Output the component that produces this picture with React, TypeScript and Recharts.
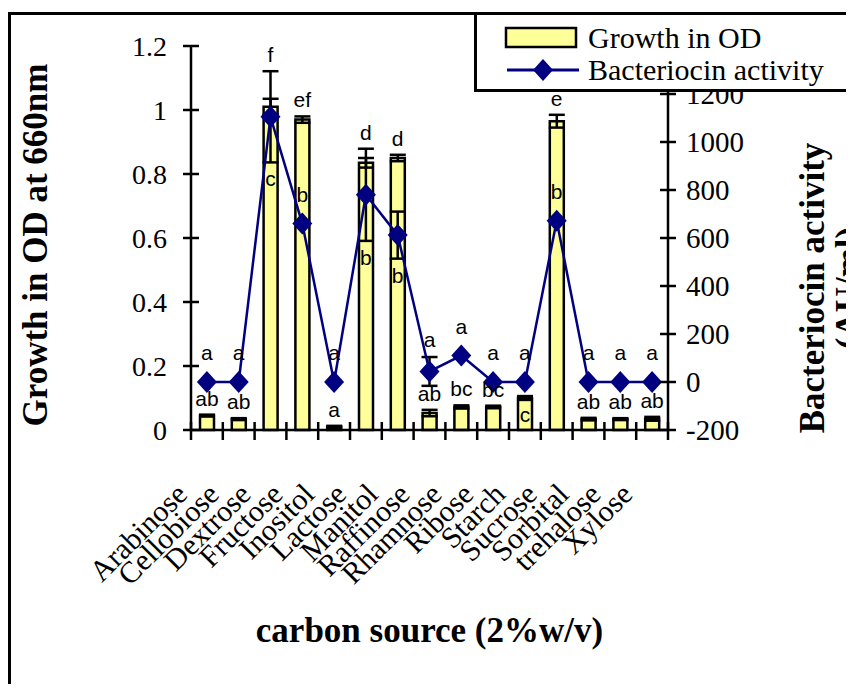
import React from 'react';
import {
  ComposedChart, Bar, Line, XAxis, YAxis, ErrorBar, LabelList, Legend, Label
} from 'recharts';

// carbon sources tested (2% w/v)
const carbonSources = [
  'Arabinose', 'Cellobiose', 'Dextrose', 'Fructose', 'Inositol', 'Lactose', 'Manitol',
  'Raffinose', 'Rhamnose', 'Ribose', 'Starch', 'Sucrose', 'Sorbital', 'trehalose', 'Xylose'
];

// growth (OD 660nm) with std error
const growthOD = [0.045, 0.034, 1.01, 0.97, 0.01, 0.835, 0.85, 0.053, 0.072, 0.072, 0.1, 0.965, 0.034, 0.034, 0.035];
const growthErr = [0.003, 0.003, 0.025, 0.01, 0.003, 0.015, 0.01, 0.01, 0.005, 0.004, 0.006, 0.02, 0.004, 0.003, 0.006];

// bacteriocin activity (AU/ml) with std error
const activity = [0, 0, 1105, 660, 0, 780, 612, 44, 110, 0, 0, 672, 0, 0, 0];
const activityErr = [0, 0, 190, 0, 0, 192, 98, 60, 0, 0, 0, 0, 0, 0, 0];

// significance groups
const growthLetters = ['ab', 'ab', 'f', 'ef', 'a', 'd', 'd', 'ab', 'bc', 'bc', 'c', 'e', 'ab', 'ab', 'ab'];
const activityLetters = ['a', 'a', 'c', 'b', 'a', 'b', 'b', 'a', 'a', 'a', 'a', 'b', 'a', 'a', 'a'];

const odTicks = [0, 0.2, 0.4, 0.6, 0.8, 1, 1.2];
const activityTicks = [-200, 0, 200, 400, 600, 800, 1000, 1200];

const W = 846;
const H = 676;
const TOP = 38;
const LEFT_W = 183;
const RIGHT_W = 186;
const PLOT_H = 384;
const PLOT_BOTTOM = TOP + PLOT_H;
const BAND = (W - LEFT_W - RIGHT_W) / carbonSources.length;

const serif = '"Liberation Serif", "Times New Roman", serif';
const sans = '"Liberation Sans", Arial, sans-serif';

const yOD = (v: number) => PLOT_BOTTOM - (v / 1.2) * PLOT_H;
const yAct = (v: number) => PLOT_BOTTOM - ((v + 200) / 1600) * PLOT_H;

const data = carbonSources.map((name, i) => ({
  name,
  od: growthOD[i],
  odErr: growthErr[i],
  activity: activity[i],
  activityErr: activityErr[i],
}));

const catIndex = (p: any) => {
  if (typeof p.index === 'number') return p.index;
  const x = p.viewBox?.x ?? p.x ?? LEFT_W;
  return Math.max(0, Math.min(carbonSources.length - 1, Math.floor((x - LEFT_W + 1) / BAND)));
};

const GrowthLetter = (p: any) => {
  const i = catIndex(p);
  const cx = LEFT_W + BAND * (i + 0.5);
  const barTop = yOD(growthOD[i]);
  let base = yOD(growthOD[i] + growthErr[i]);
  const aErr = activityErr[i];
  // activity error bar crossing the bar top pushes the letter higher
  if (aErr > 0 && yAct(activity[i] - aErr) > barTop) {
    base = Math.min(base, yAct(activity[i] + aErr));
  }
  let y = base - 9;
  const dy = yAct(activity[i]);
  if (dy > y - 13 && dy < y + 2) y = barTop + 24; // tuck inside the bar, clear of the marker
  return (
    <text x={cx} y={y} textAnchor="middle" fontFamily={sans} fontSize={21} fill="#000">
      {growthLetters[i]}
    </text>
  );
};

const ActivityLetter = (p: any) => {
  const i = catIndex(p);
  const cx = LEFT_W + BAND * (i + 0.5);
  const dy = yAct(activity[i]);
  const err = activityErr[i];
  const y = err > 0 && dy > yOD(growthOD[i])
    ? yAct(activity[i] - err) + 24
    : yAct(activity[i] + err) - (err > 0 ? 10 : 22);
  return (
    <text x={cx} y={y} textAnchor="middle" fontFamily={sans} fontSize={21} fill="#000">
      {activityLetters[i]}
    </text>
  );
};

const Diamond = (p: any) => {
  const { cx, cy } = p;
  if (cx == null || cy == null) return <g key={`dm-${p.index}`} />;
  return (
    <path
      key={`dm-${p.index}`}
      d={`M${cx},${cy - 11} L${cx + 10},${cy} L${cx},${cy + 11} L${cx - 10},${cy} Z`}
      fill="#000080"
    />
  );
};

const CategoryTick = (p: any) => {
  const { x, y, payload, index } = p;
  const half = BAND / 2;
  return (
    <g>
      <line x1={x - half} x2={x - half} y1={y - 8} y2={y + 10} stroke="#000" strokeWidth={2.5} />
      {index === carbonSources.length - 1 && (
        <line x1={x + half} x2={x + half} y1={y - 8} y2={y + 10} stroke="#000" strokeWidth={2.5} />
      )}
      <text
        transform={`translate(${x - 18},${y + 66}) rotate(-45)`}
        textAnchor="end"
        fontFamily={serif}
        fontSize={30}
        fill="#000"
      >
        {payload.value}
      </text>
    </g>
  );
};

const LeftTick = (p: any) => {
  const { x, y, payload } = p;
  const ax = x + 24;
  return (
    <g>
      <line x1={ax - 8} x2={ax + 8} y1={y} y2={y} stroke="#000" strokeWidth={2.5} />
      <text x={x} y={y} dy="0.35em" textAnchor="end" fontFamily={serif} fontSize={28} fill="#000">
        {payload.value}
      </text>
    </g>
  );
};

const RightTick = (p: any) => {
  const { x, y, payload } = p;
  const ax = x - 18;
  return (
    <g>
      <line x1={ax - 8} x2={ax + 8} y1={y} y2={y} stroke="#000" strokeWidth={2.5} />
      <text x={x} y={y} dy="0.35em" textAnchor="start" fontFamily={serif} fontSize={29} fill="#000">
        {payload.value}
      </text>
    </g>
  );
};

const LegendBox = () => (
  <svg width={420} height={80} style={{ display: 'block' }}>
    <rect x={1.5} y={1.5} width={430} height={77} fill="#fff" stroke="#000" strokeWidth={3} />
    <rect x={32} y={16} width={70} height={19} fill="#FFFF99" stroke="#000" strokeWidth={2.5} />
    <text x={114} y={36} fontFamily={serif} fontSize={30} fill="#000">Growth in OD</text>
    <line x1={33} x2={105} y1={58} y2={58} stroke="#000080" strokeWidth={3} />
    <path d="M69,47 L79,58 L69,69 L59,58 Z" fill="#000080" />
    <text x={114} y={68} fontFamily={serif} fontSize={30} fill="#000">Bacteriocin activity</text>
  </svg>
);

const titleStyle = { fontFamily: serif, fontSize: 35, fontWeight: 700, fill: '#000' };

export default function App() {
  return (
    <div style={{ position: 'relative', width: W, height: H, overflow: 'hidden' }}>
      <div
        style={{
          position: 'absolute', left: 0, top: 4, width: W + 60, height: H + 60,
          border: '3px solid #000', boxSizing: 'border-box',
        }}
      />
      <ComposedChart width={W} height={H} data={data} margin={{ top: TOP, right: 0, bottom: 0, left: 0 }}>
        <XAxis
          dataKey="name"
          height={H - TOP - PLOT_H}
          interval={0}
          tickLine={false}
          tickSize={0}
          tickMargin={0}
          tick={<CategoryTick />}
          axisLine={{ stroke: '#000', strokeWidth: 2.5 }}
        >
          <Label
            content={() => (
              <text x={LEFT_W + (W - LEFT_W - RIGHT_W) / 2} y={634} textAnchor="middle" style={titleStyle}>
                carbon source (2%w/v)
              </text>
            )}
          />
        </XAxis>
        <YAxis
          yAxisId="od"
          orientation="left"
          width={LEFT_W}
          domain={[0, 1.2]}
          ticks={odTicks}
          interval={0}
          tickLine={false}
          tickSize={0}
          tickMargin={24}
          tick={<LeftTick />}
          axisLine={{ stroke: '#000', strokeWidth: 2.5 }}
        >
          <Label
            content={() => (
              <text transform={`translate(39,${TOP + PLOT_H / 2 + 7}) rotate(-90)`} textAnchor="middle" style={titleStyle}>
                Growth in OD at 660nm
              </text>
            )}
          />
        </YAxis>
        <YAxis
          yAxisId="act"
          orientation="right"
          width={RIGHT_W}
          domain={[-200, 1400]}
          ticks={activityTicks}
          interval={0}
          tickLine={false}
          tickSize={0}
          tickMargin={18}
          tick={<RightTick />}
          axisLine={{ stroke: '#000', strokeWidth: 2.5 }}
        >
          <Label
            content={() => (
              <g>
                <text transform={`translate(816,280) rotate(-90)`} textAnchor="middle" style={titleStyle}>
                  Bacteriocin activity
                </text>
                <text transform={`translate(852,280) rotate(-90)`} textAnchor="middle" style={titleStyle}>
                  (AU/ml)
                </text>
              </g>
            )}
          />
        </YAxis>
        <Legend
          layout="vertical"
          align="center"
          verticalAlign="middle"
          content={<LegendBox />}
          wrapperStyle={{ left: 466, top: 4, width: 420, height: 80 }}
        />
        <Bar
          yAxisId="od"
          dataKey="od"
          name="Growth in OD"
          fill="#FFFF99"
          stroke="#000"
          strokeWidth={2.5}
          barSize={14}
          isAnimationActive={false}
        >
          <ErrorBar dataKey="odErr" width={8} stroke="#000" strokeWidth={2.5} direction="y" />
          <LabelList dataKey="od" content={(p: any) => <GrowthLetter {...p} />} />
        </Bar>
        <Line
          yAxisId="act"
          type="linear"
          dataKey="activity"
          name="Bacteriocin activity"
          stroke="#000080"
          strokeWidth={2.5}
          dot={(p: any) => <Diamond {...p} />}
          activeDot={false}
          isAnimationActive={false}
        >
          <ErrorBar dataKey="activityErr" width={8} stroke="#000" strokeWidth={2.5} direction="y" />
          <LabelList dataKey="activity" content={(p: any) => <ActivityLetter {...p} />} />
        </Line>
      </ComposedChart>
    </div>
  );
}
